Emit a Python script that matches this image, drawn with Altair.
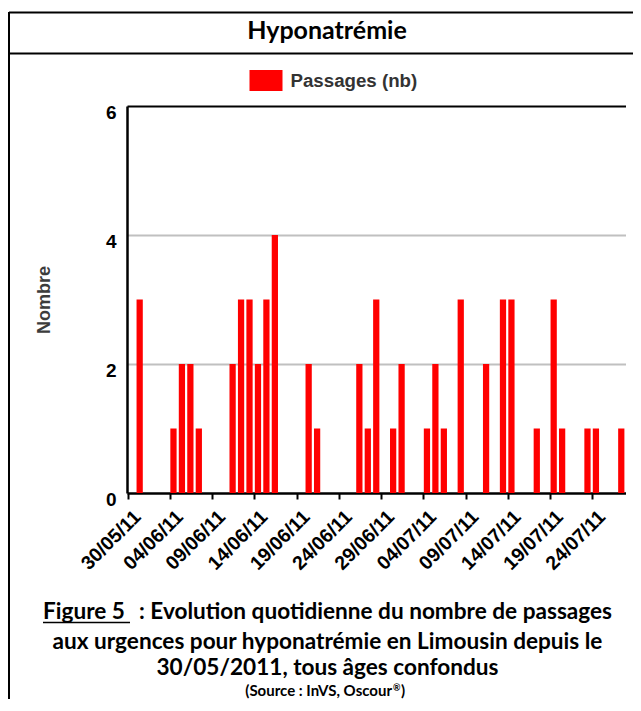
import altair as alt
import pandas as pd

# ---------------- data ----------------
start_date = "2011-05-30"
counts = [0, 3, 0, 0, 0, 1, 2, 2, 1, 0,
          0, 0, 2, 3, 3, 2, 3, 4, 0, 0,
          0, 2, 1, 0, 0, 0, 0, 2, 1, 3,
          0, 1, 2, 0, 0, 1, 2, 1, 0, 3,
          0, 0, 2, 0, 3, 3, 0, 0, 1, 0,
          3, 1, 0, 0, 1, 1, 0, 0, 1]
dates = pd.date_range(start_date, periods=len(counts), freq="D").strftime("%d/%m/%y").tolist()
tick_labels = dates[::5]
y_ticks = [0, 2, 4, 6]
series_name = "Passages (nb)"

title_text = "Hyponatrémie"
fig_label = "Figure 5"
caption_1 = ": Evolution quotidienne du nombre de passages"
caption_2 = "aux urgences pour hyponatrémie en Limousin depuis le"
caption_3 = "30/05/2011, tous âges confondus"
caption_4a = "(Source : InVS, Oscour"
caption_4b = "®"
caption_4c = ")"

df = pd.DataFrame({"date": dates, "passages": counts, "serie": series_name})

LBL = "Liberation Sans, Arial, sans-serif"
CAP = "Lato, Liberation Sans, sans-serif"

W, H = 498.5, 387

bars = alt.Chart(df).mark_bar().encode(
    x=alt.X("date:O", sort=dates,
            scale=alt.Scale(paddingInner=0.26, paddingOuter=0.13),
            axis=alt.Axis(values=tick_labels, title=None, labelAngle=-45,
                          labelFont=LBL, labelFontSize=19.5, labelFontWeight="bold",
                          labelColor="black", domainColor="black", domainWidth=2.5,
                          tickColor="black", tickWidth=2, tickSize=6, bandPosition=0,
                          labelPadding=8, grid=False)),
    y=alt.Y("passages:Q", scale=alt.Scale(domain=[0, 6], nice=False),
            axis=alt.Axis(values=y_ticks, title="Nombre", ticks=False,
                          labelFont=LBL, labelFontSize=19, labelFontWeight="bold",
                          labelColor="black", labelPadding=11, labelBaseline="middle",
                          labelOffset=6,
                          domainColor="black", domainWidth=2.5,
                          grid=True, gridWidth=2,
                          gridColor={"condition": {"test": "datum.value === 6", "value": "#000000"},
                                     "value": "#c0c0c0"},
                          gridOpacity={"condition": {"test": "datum.value === 0", "value": 0},
                                       "value": 1},
                          titleFont=LBL, titleFontSize=18, titleFontWeight="bold",
                          titleColor="#3c3c3c", titleAngle=270, titleX=-83, titleY=H / 2,
                          titleAlign="center", titleBaseline="middle")),
    color=alt.Color("serie:N", scale=alt.Scale(range=["#ff0000"]),
                    legend=alt.Legend(title=None, orient="none", legendX=122.5, legendY=-42,
                                      symbolType="M-1,-0.64H1V0.64H-1Z", symbolSize=1089,
                                      symbolStrokeWidth=0, labelFont=LBL, labelFontSize=18.7,
                                      labelFontWeight="bold", labelColor="#333333",
                                      labelOffset=8, padding=0)),
)

deco = pd.DataFrame({"k": [0]})


def hline(x1, x2, y, w):
    return alt.Chart(deco).mark_rule(color="black", strokeWidth=w).encode(
        x=alt.value(x1), x2=alt.value(x2), y=alt.value(y))


def vline(x, y1, y2, w):
    return alt.Chart(deco).mark_rule(color="black", strokeWidth=w).encode(
        x=alt.value(x), y=alt.value(y1), y2=alt.value(y2))


def text(t, x, y, size, align="center", font=CAP, weight="bold"):
    return alt.Chart(pd.DataFrame({"t": [t]})).mark_text(
        font=font, fontSize=size, fontWeight=weight, color="black",
        align=align, baseline="alphabetic").encode(
        text="t:N", x=alt.value(x), y=alt.value(y))


frame = [
    vline(-118, -94, 620, 2),
    hline(-118, 530, -93.5, 2),
    hline(-118, 530, -52.5, 2),
]

texts = [
    text(title_text, 200, -67, 25),
    text(fig_label, -84, 513, 22.6, align="left"),
    text(caption_1, 485, 513, 22.6, align="right"),
    text(caption_2, 200.5, 543, 22.6),
    text(caption_3, 200.5, 569, 22.6),
    text(caption_4a, 265, 590, 15, align="right"),
    text(caption_4b, 266, 585, 9, align="left"),
    text(caption_4c, 274, 590, 15, align="left"),
    hline(-84, 3, 516.5, 1.5),
]

chart = alt.layer(bars, *frame, *texts).properties(
    width=W, height=H,
    padding={"left": 119, "top": 98, "right": 7.5, "bottom": 206},
    autosize=alt.AutoSizeParams(type="none"),
).configure_view(stroke=None)

chart.save("out.html", embed_options={"renderer": "svg", "actions": False})
